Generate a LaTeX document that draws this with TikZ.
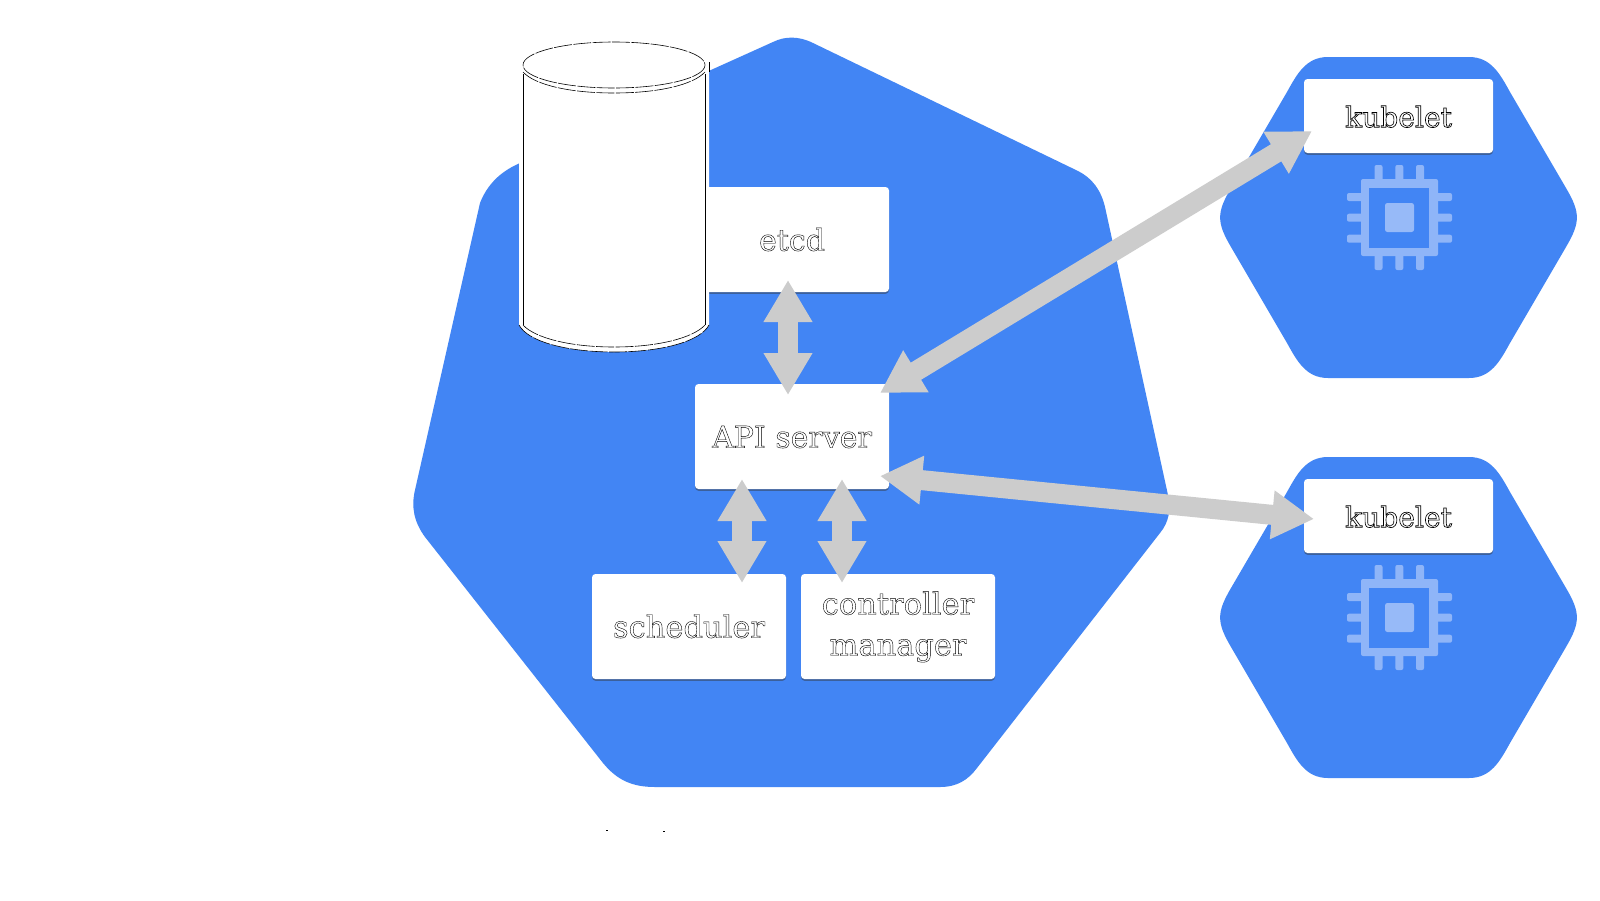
\documentclass[tikz,border=0pt]{standalone}
\usepackage{fontspec}
\setmainfont{DejaVu Serif}
\usetikzlibrary{arrows.meta,shadows}
\definecolor{gblue}{HTML}{4285F4}
\definecolor{chipc}{HTML}{8FB5F8}
\definecolor{chipm}{HTML}{97BAF8}
\definecolor{arrc}{HTML}{CCCCCC}
% outlined text: stroke only, thin hairline
\newcommand\outl[1]{\special{pdf:code 1 Tr 0.2 w 0 G}#1\special{pdf:code 0 Tr}}
\newcommand\outlk[1]{\special{pdf:code 1 Tr 0.32 w 0 G}#1\special{pdf:code 0 Tr}}
\tikzset{
  x=0.5pt,y=-0.5pt,
  comp/.style={fill=white,rounded corners=1.75pt,inner sep=0pt,outer sep=0pt,
    font=\fontsize{15}{20.5}\selectfont,align=center,text height=11.2pt,text depth=0pt,
    drop shadow={shadow xshift=0pt,shadow yshift=-0.9pt,opacity=.45,fill=black!80}},
  masterbox/.style={comp,minimum width=97pt,minimum height=52.5pt},
  kubebox/.style={comp,minimum width=94.5pt,minimum height=37pt,font=\fontsize{14.1}{20}\selectfont},
  blockarrow/.style={draw=arrc,line width=10pt,
    {Triangle[length=21pt,width=23pt,fill=arrc]}-{Triangle[length=21pt,width=23pt,fill=arrc]}},
  hexshape/.style={fill=gblue},
  chippin/.style={fill=chipc,rounded corners=1pt},
  cylline/.style={draw=black,line width=0.3pt,dash pattern=on 9pt off 0.7pt},
}
\begin{document}
\begin{tikzpicture}
\useasboundingbox (0,0) rectangle (1600,900);
\fill[white] (0,0) rectangle (1600,900);
% worker hexagons and chips
\foreach \dy/\nm in {0/A,400/B}{
  \begin{scope}[shift={(0,\dy)}]
    \fill[hexshape] (1328,57) -- (1469,57) .. controls (1491,57) and (1500,74) .. (1510,92)
      -- (1566,188) .. controls (1580.5,212.7) and (1580.5,222.3) .. (1566,247)
      -- (1510,343) .. controls (1500,361) and (1491,378) .. (1469,378)
      -- (1328,378) .. controls (1306,378) and (1297,361) .. (1287,343)
      -- (1231,247) .. controls (1216.5,222.3) and (1216.5,212.7) .. (1231,188)
      -- (1287,92) .. controls (1297,74) and (1306,57) .. (1328,57) -- cycle;
    \foreach \c in {1378.5,1399.3,1420}{
      \fill[chippin] (\c-4,165) rectangle (\c+4,185);
      \fill[chippin] (\c-4,250) rectangle (\c+4,270);
    }
    \foreach \c in {197,217.7,238.7}{
      \fill[chippin] (1347,\c-4) rectangle (1367,\c+4);
      \fill[chippin] (1432,\c-4) rectangle (1452,\c+4);
    }
    \fill[chipc,rounded corners=1pt] (1361,179) rectangle (1438,256);
    \fill[gblue] (1369,188) rectangle (1429,248);
    \fill[chipm,rounded corners=1.2pt] (1385,203) rectangle (1414,232);
  \end{scope}
}
% control-plane heptagon
\fill[gblue] (773,42) .. controls (785,36) and (799,36) .. (813,43)
  -- (1078,171) .. controls (1092,178) and (1101,190) .. (1105,207)
  -- (1168,495) .. controls (1171,510) and (1169,522) .. (1160,533)
  -- (977,768) .. controls (968,780) and (957,787) .. (940,787)
  -- (655,787) .. controls (632,787) and (617,780) .. (603,763)
  -- (425,537) .. controls (414,522) and (411,507) .. (415,490)
  -- (480,203) .. controls (487,185) and (500,172) .. (518,164)
  -- (600,120) -- cycle;
% boxes
\node[masterbox] (etcd) at (792,239.5) {\outl{etcd}};
% cylinder
\fill[white] (519,62) -- (709,62) -- (709,325) .. controls (700,342) and (660,352) .. (614,352)
  .. controls (568,352) and (528,342) .. (519,325) -- cycle;
\fill[white] (523,65) arc[x radius=91,y radius=23,start angle=180,end angle=0] -- cycle;
\draw[cylline] (614,65) ellipse[x radius=91,y radius=23];
\draw[cylline] (523,72) .. controls (535,85) and (570,93) .. (614,93) .. controls (658,93) and (693,85) .. (705,72);
\draw[draw=black,line width=0.35pt] (523,74) -- (523,325) (705,74) -- (705,325);
\draw[cylline] (523,325) .. controls (535,338) and (570,347) .. (614,347) .. controls (658,347) and (693,338) .. (705,325);
\draw[cylline] (519,325) .. controls (528,342) and (568,352) .. (614,352) .. controls (660,352) and (700,342) .. (709,325);
\draw[draw=black,line width=0.2pt] (709,62) -- (709,72);
\node[masterbox] (api) at (792,436.5) {\outl{API server}};
\node[masterbox,font=\fontsize{15.25}{20.5}\selectfont] (sched) at (689,626.5) {\outl{scheduler}};
\node[masterbox,font=\fontsize{15.25}{20.5}\selectfont,text height=29pt] (ctrl) at (898,626.5) {\outl{controller}\\\outl{manager}};
\node[kubebox] (kubA) at (1398.5,116) {\outlk{kubelet}};
\node[kubebox] (kubB) at (1398.5,516) {\outlk{kubelet}};
% connectors
\draw[blockarrow] ([shift={(-4,-12)}]etcd.south) -- ([shift={(-4,11)}]api.north);
\draw[blockarrow] ([shift={(-50,-10)}]api.south) -- ([shift={(53,9)}]sched.north);
\draw[blockarrow] ([shift={(50,-10)}]api.south) -- ([shift={(-56,9)}]ctrl.north);
\draw[blockarrow] ([shift={(-9,-43.5)}]api.east) -- ([shift={(8,15)}]kubA.west);
\draw[blockarrow] ([shift={(-9,39.5)}]api.east) -- ([shift={(10,3)}]kubB.west);
% stray marks
\fill[black] (606,830) rectangle (608,831);
\fill[black] (663,831) rectangle (665,832);
\end{tikzpicture}
\end{document}
